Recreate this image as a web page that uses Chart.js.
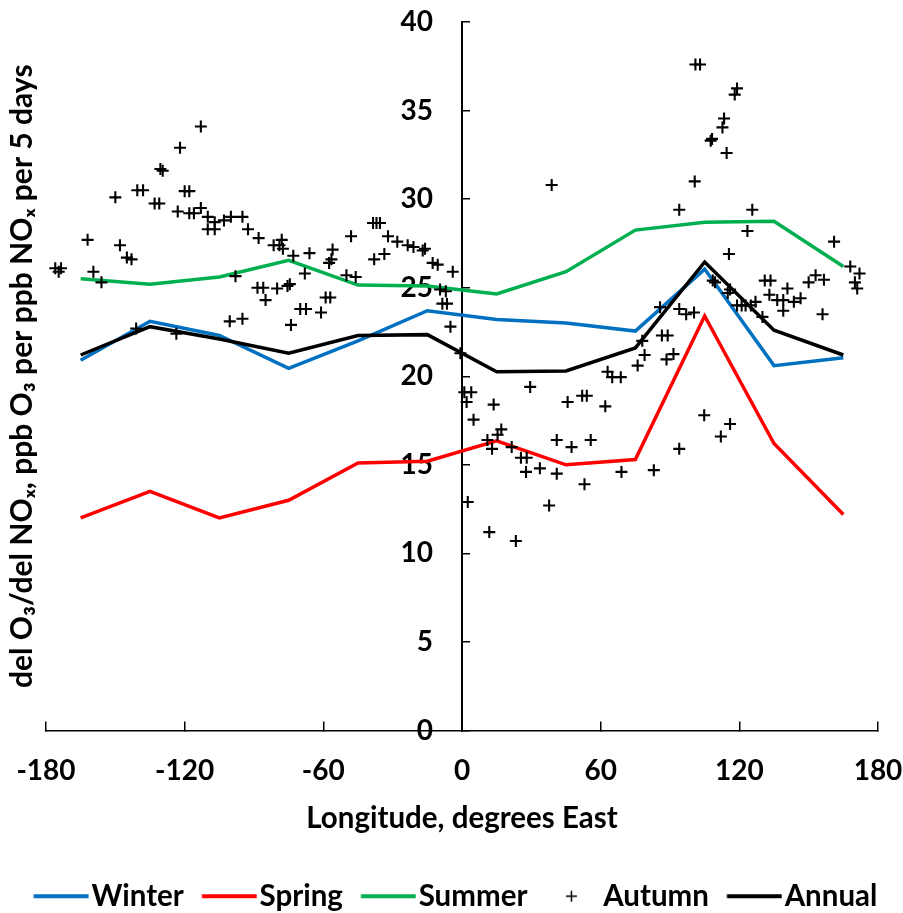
<!DOCTYPE html>
<html>
<head>
<meta charset="utf-8">
<script src="https://cdn.jsdelivr.net/npm/chart.js@4.4.1/dist/chart.umd.min.js"></script>
<style>
  body { margin: 0; background: #fff; }
  #wrap { width: 903px; height: 913px; }
</style>
</head>
<body>
<div id="wrap"><canvas id="ozChart" width="903" height="913"></canvas></div>
<script>
// seasonal means, every 30 degrees of longitude
const lonBins = [-165, -135, -105, -75, -45, -15, 15, 45, 75, 105, 135, 165];
const winter = [20.9, 23.1, 22.3, 20.45, 22.0, 23.7, 23.2, 23.0, 22.55, 26.05, 20.6, 21.05];
const spring = [12.0, 13.5, 12.0, 13.0, 15.1, 15.2, 16.35, 15.0, 15.3, 23.4, 16.2, 12.2];
const summer = [25.5, 25.2, 25.6, 26.55, 25.15, 25.1, 24.65, 25.9, 28.25, 28.7, 28.75, 26.2];
const annual = [21.2, 22.8, 22.1, 21.3, 22.3, 22.35, 20.25, 20.3, 21.6, 26.45, 22.6, 21.2];

// autumn, individual sites
const autumnLon = [
  -176, -174.5, -173.5, -162, -159.5, -156, -150, -148, -145, -143,
  -141, -140.5, -138, -133, -131, -130.5, -129.5, -122, -123.6, -123,
  -120, -118, -118, -116, -113, -113, -110, -110, -107, -107,
  -103, -100, -98, -100.5, -95, -95, -92.6, -88, -88.5, -86,
  -85, -81.5, -79, -78, -77.5, -80, -75.5, -74.5, -74, -73,
  -70, -67.5, -68, -66, -61, -59, -57, -57.5, -56.5, -56,
  -50, -48, -46, -38.5, -37, -35.5, -38, -33.6, -32, -28,
  -23.5, -21, -17, -16, -12.7, -10.5, -4, -9.5, -7, -8.5,
  -6.5, -5, -0.7,
  1, 4, 2, 5, 2.5, 11, 13, 13.7, 15.4, 17,
  11.8, 21.5, 23.3, 25.5, 28, 27.7, 29.5, 33.7, 37.7, 38.8,
  41, 41, 45.7, 47.4, 52, 54, 53, 55.7, 62, 63,
  65, 68.7, 69, 76, 78, 79, 83, 85.7, 86.5, 89,
  88.5, 91.5, 94, 94, 94, 97, 100.4, 100.7, 101, 103,
  104.8, 107.6, 108.2, 108.5, 109.5, 112, 112.7, 113.4, 114.5, 115,
  115.5, 116, 116, 118, 119, 119, 121, 122.7, 125, 123.5,
  125.6, 127, 130, 131, 133.5, 133, 136.4, 139, 139, 140.8,
  143.6, 146.5, 150, 153, 156.6, 156, 161, 168, 172, 170,
  171
];
const autumnVal = [
  26.1, 25.9, 26.1, 27.7, 25.9, 25.3, 30.1, 27.4, 26.7, 26.6,
  22.7, 30.5, 30.5, 29.75, 29.75, 31.7, 31.6, 32.9, 22.4, 29.3,
  30.45, 30.45, 29.2, 29.2, 34.1, 29.5, 29.0, 28.3, 28.7, 28.3,
  28.8, 29.0, 25.65, 23.1, 29.0, 23.25, 28.3, 27.8, 25.0, 25.0,
  24.3, 27.4, 27.4, 27.7, 27.2, 24.95, 25.1, 25.2, 22.9, 26.8,
  23.8, 23.8, 25.8, 26.95, 23.6, 24.45, 24.45, 26.4, 26.6, 27.15,
  25.7, 27.9, 25.6, 28.65, 28.65, 28.65, 26.6, 26.9, 27.9, 27.6,
  27.4, 27.3, 27.1, 27.2, 26.4, 26.3, 25.9, 24.9, 24.8, 24.1,
  24.1, 22.8, 21.3,
  19.1, 19.1, 18.55, 17.55, 12.9, 16.4, 15.9, 18.4, 16.7, 17.0,
  11.2, 16.0, 10.7, 15.4, 15.4, 14.6, 19.4, 14.8, 12.7, 30.8,
  14.5, 16.4, 18.55, 16.0, 18.9, 18.9, 13.9, 16.4, 18.3, 20.25,
  19.95, 19.95, 14.6, 20.6, 22.0, 21.2, 14.7, 23.9, 22.3, 22.3,
  20.95, 21.25, 23.8, 15.9, 29.4, 23.5, 23.6, 31.0, 37.6, 37.6,
  17.8, 33.3, 33.4, 25.4, 25.3, 16.6, 34.05, 34.55, 32.6, 24.7,
  26.9, 24.9, 17.3, 35.9, 36.25, 24.0, 24.0, 24.0, 24.0, 28.2,
  29.4, 24.2, 23.35, 25.4, 25.4, 24.6, 24.3, 24.3, 23.7, 24.95,
  24.2, 24.4, 25.3, 25.7, 25.45, 23.5, 27.6, 26.2, 25.8, 25.3,
  24.95
];

const xTicksStep = 60;
const yTicksStep = 5;
const xTitle = 'Longitude, degrees East';
const yTitle = 'del O\u2083/del NO\u2093, ppb O\u2083 per ppb NO\u2093 per 5 days';

const fontFam = 'Lato, "Open Sans", sans-serif';
const bold28 = { family: fontFam, size: 28, weight: 'bold' };

function pts(xs, ys) {
  return xs.map((x, i) => ({ x: x, y: ys[i] }));
}

function lineSet(label, ys, color, order) {
  return {
    label: label,
    data: pts(lonBins, ys),
    showLine: true,
    borderColor: color,
    backgroundColor: color,
    borderWidth: 3.5,
    pointRadius: 0,
    pointHoverRadius: 0,
    order: order
  };
}

// legend swatches: drawn off-centre so the sample sits close to its text
function legendIcon(color, isPlus) {
  let cv = document.createElement('canvas');
  cv.width = 76;
  cv.height = 16;
  let c = cv.getContext('2d');
  c.strokeStyle = color;
  c.beginPath();
  if (isPlus) {
    c.lineWidth = 1.5;
    c.moveTo(41, 8); c.lineTo(52, 8);
    c.moveTo(46.5, 2.5); c.lineTo(46.5, 13.5);
  } else {
    c.lineWidth = 4;
    c.moveTo(20.5, 8); c.lineTo(75.5, 8);
  }
  c.stroke();
  return cv;
}

let ctx = document.getElementById('ozChart');
new Chart(ctx, {
  type: 'scatter',
  data: {
    datasets: [
      lineSet('Winter', winter, '#0070C0', 3),
      lineSet('Spring', spring, '#FF0000', 4),
      lineSet('Summer', summer, '#00B050', 5),
      {
        label: 'Autumn',
        data: pts(autumnLon, autumnVal),
        showLine: false,
        pointStyle: 'cross',
        pointRadius: 6,
        pointHoverRadius: 6,
        borderColor: '#000',
        backgroundColor: '#000',
        borderWidth: 2.1,
        order: 1
      },
      lineSet('Annual', annual, '#000000', 0)
    ]
  },
  options: {
    responsive: false,
    animation: false,
    layout: { padding: { top: 22, right: 0, bottom: -8, left: 0 } },
    plugins: {
      tooltip: { enabled: false },
      legend: {
        position: 'bottom',
        labels: {
          usePointStyle: true,
          pointStyleWidth: 51,
          padding: 10,
          color: '#000',
          font: { family: fontFam, size: 29.5, weight: 'bold' },
          generateLabels: (chart) => chart.data.datasets.map((ds, i) => ({
            text: ds.label,
            fillStyle: ds.borderColor,
            strokeStyle: ds.borderColor,
            fontColor: '#000',
            lineWidth: 0,
            pointStyle: legendIcon(ds.borderColor, !ds.showLine),
            hidden: false,
            datasetIndex: i
          }))
        }
      }
    },
    scales: {
      x: {
        type: 'linear',
        min: -180,
        max: 180,
        ticks: { stepSize: xTicksStep, font: bold28, color: '#000', padding: 33, maxRotation: 0 },
        grid: { drawOnChartArea: false, tickLength: -9, color: '#000', lineWidth: 1.5 },
        border: { color: '#000', width: 1.5 },
        title: { display: true, text: xTitle, font: { family: fontFam, size: 29.5, weight: 'bold' }, color: '#000', padding: { top: -20, bottom: 35 } },
        afterFit: (s) => { s.paddingLeft = 0; s.paddingRight = 25; }
      },
      y: {
        type: 'linear',
        min: 0,
        max: 40,
        // x runs -180..180, so the centre of the plot is longitude 0
        position: 'center',
        ticks: { stepSize: yTicksStep, font: bold28, color: '#000', padding: 38 },
        grid: { drawOnChartArea: false, tickLength: -9, color: '#000', lineWidth: 1.5 },
        border: { color: '#000', width: 2 },
        afterFit: (s) => { s.paddingTop = 0; s.paddingBottom = 0; }
      },
      yTitle: {
        type: 'linear',
        position: 'left',
        min: 0,
        max: 40,
        ticks: { display: false },
        grid: { display: false, drawTicks: false },
        border: { display: false },
        title: { display: true, text: yTitle, font: { family: fontFam, size: 30, weight: 'bold' }, color: '#000', padding: { top: 4, bottom: 6 } },
        afterFit: (s) => { s.paddingTop = 0; s.paddingBottom = 0; }
      }
    }
  }
});
</script>
</body>
</html>
